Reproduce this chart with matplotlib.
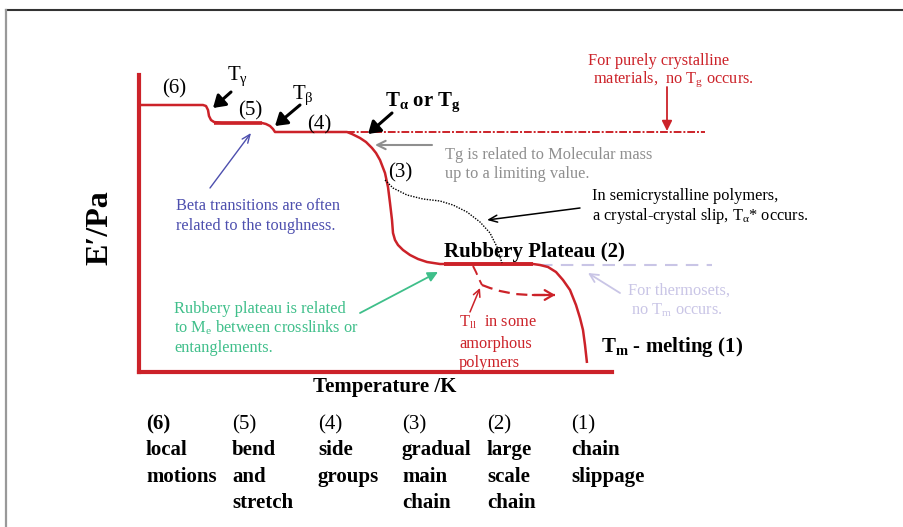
import matplotlib
matplotlib.use("Agg")
import matplotlib.pyplot as plt

plt.rcParams['font.family'] = ['Liberation Serif', 'DejaVu Serif']
plt.rcParams['mathtext.fontset'] = 'custom'
plt.rcParams['mathtext.rm'] = 'Liberation Serif'
plt.rcParams['mathtext.it'] = 'Liberation Serif:italic'
plt.rcParams['mathtext.bf'] = 'Liberation Serif:bold'
plt.rcParams['mathtext.default'] = 'regular'

# ---- storage modulus vs temperature (arbitrary units) ----
temp = [0, 64, 67, 69, 70, 72, 75, 83, 123, 127, 131, 134, 136, 141, 206, 208,
        213, 221, 227, 233, 237, 241, 246, 249, 251, 253, 254, 256, 259, 264,
        271, 279, 288, 301, 394, 401, 409, 417, 424, 431, 437, 441, 444, 446, 448]
modulus = [267, 267, 266, 262, 256, 252, 250, 249, 249, 248, 246, 243, 240, 240, 240, 240,
           238, 234, 230, 224, 219, 212, 199, 185, 169, 152, 139, 132, 127, 122,
           117, 113, 110, 108, 108, 107, 105, 100, 92, 82, 67, 54, 42, 27, 9]

# bend/stretch level and rubbery plateau (drawn heavier)
bend_temp, bend_mod = [75, 123], [249, 249]
plateau_temp, plateau_mod = [305, 394], [108, 108]

# purely crystalline: no glass transition
cryst_temp, cryst_mod = [208, 566], [240, 240]
# thermosets: no melting
thermo_temp, thermo_mod = [401, 573], [107, 107]
# crystal-crystal slip in semicrystalline polymers
slip_temp = [246, 254, 268, 284, 301, 314, 328, 341, 351, 358, 361, 363]
slip_mod = [192, 184, 177, 173, 171, 167, 160, 150, 139, 125, 115, 109]
# liquid-liquid transition in amorphous polymers
tll_temp = [334, 337, 340, 343, 351, 361, 376, 391, 416]
tll_mod = [106, 100, 93, 87, 84, 81, 78, 77, 77]

# molecular-motion regions below the chart
regions = ["(6)", "(5)", "(4)", "(3)", "(2)", "(1)"]
motions = [["local", "motions"], ["bend", "and", "stretch"], ["side", "groups"],
           ["gradual", "main", "chain"], ["large", "scale", "chain"], ["chain", "slippage"]]

RED = '#cc2229'
W, H = 904, 527
fig = plt.figure(figsize=(W / 100, H / 100), dpi=100)
fig.patch.set_facecolor('white')

# chart axes: data units map onto the plotting area
ax = fig.add_axes([139 / W, (H - 372) / H, 581 / W, 312 / H])
ax.set_xlim(0, 581)
ax.set_ylim(0, 312)
ax.patch.set_alpha(0)
for s in ['top', 'right']:
    ax.spines[s].set_visible(False)
ax.spines['left'].set_color(RED)
ax.spines['left'].set_linewidth(3)
ax.spines['left'].set_bounds(0, 297)
ax.spines['bottom'].set_color(RED)
ax.spines['bottom'].set_linewidth(3)
ax.spines['bottom'].set_bounds(0, 473)
ax.set_xticks([])
ax.set_yticks([])

ax.plot(cryst_temp, cryst_mod, color=RED, lw=1.4, ls=(0, (4, 1, 1, 1)), zorder=2)
ax.plot(thermo_temp, thermo_mod, color='#c9c5e6', lw=1.5, ls=(0, (6, 4)), zorder=2)
ax.plot(temp, modulus, color=RED, lw=1.8, solid_capstyle='butt', zorder=3)
ax.plot(bend_temp, bend_mod, color=RED, lw=2.6, solid_capstyle='butt', zorder=3)
ax.plot(plateau_temp, plateau_mod, color=RED, lw=2.8, solid_capstyle='butt', zorder=3)
ax.plot(slip_temp, slip_mod, color='black', lw=1.0, ls=(0, (1, 1)), zorder=3)
ax.plot(tll_temp[:4], tll_mod[:4], color=RED, lw=1.4, ls=(0, (5, 3)), zorder=3)
ax.plot(tll_temp[3:], tll_mod[3:], color=RED, lw=1.6, ls=(0, (5, 3)), zorder=3)
ax.annotate('', xy=(tll_temp[-1] + 3, tll_mod[-1]), xytext=(tll_temp[-2], tll_mod[-2]),
            arrowprops=dict(arrowstyle='->,head_length=0.6,head_width=0.35', color=RED, lw=1.6))

# overlay in pixel coordinates for labels, call-outs and frame
ov = fig.add_axes([0, 0, 1, 1])
ov.set_xlim(0, W)
ov.set_ylim(H, 0)
ov.axis('off')
ov.patch.set_alpha(0)

ov.plot([6, W], [10, 10], color='#333333', lw=1.5)
ov.plot([6, 6], [10, H], color='#999999', lw=1.6)


def txt(x, y, s, size=15, color='black', weight='normal', ha='left', **kw):
    ov.text(x, y, s, fontsize=size, color=color, fontweight=weight, ha=ha, va='baseline', **kw)


def arrow(x0, y0, x1, y1, color='black', lw=1.0, style='-|>', hl=0.5, hw=0.25):
    ov.annotate('', xy=(x1, y1), xytext=(x0, y0),
                arrowprops=dict(arrowstyle=f'{style},head_length={hl},head_width={hw}',
                                color=color, lw=lw, shrinkA=0, shrinkB=0))


# transition labels
txt(162, 93, '(6)')
txt(227, 80, r'T$_{γ}$')
txt(238, 115, '(5)')
txt(292, 99, r'T$_{β}$')
txt(307, 129, '(4)')
txt(385, 106, r'T$_{α}$ or T$_{\mathbf{g}}$', weight='bold')
txt(388, 177, '(3)')
txt(444, 257, 'Rubbery Plateau (2)', weight='bold')
txt(601, 352, r'T$_{\mathbf{m}}$ - melting (1)', weight='bold')

arrow(231, 92, 213, 108, lw=2.2, hl=0.7, hw=0.45)
arrow(300, 105, 275, 126, lw=2.2, hl=0.7, hw=0.45)
arrow(392, 113, 368, 134, lw=2.2, hl=0.7, hw=0.45)

# notes
SMALL = 11.8
txt(445, 159, 'Tg is related to Molecular mass', size=SMALL, color='#8f8f8f')
txt(445, 178, 'up to a limiting value.', size=SMALL, color='#8f8f8f')
arrow(432, 145, 375, 145, color='#8f8f8f', lw=1.5, hl=0.6, hw=0.3, style='->')

txt(592, 200, 'In semicrystalline polymers,', size=SMALL)
txt(592, 220, r'a crystal-crystal slip, T$_{α}$* occurs.', size=SMALL)
arrow(580, 208, 487, 220, lw=1.1, hl=0.6, hw=0.25, style='->')

BLUE = '#4d4fae'
txt(176, 210, 'Beta transitions are often', size=SMALL, color=BLUE)
txt(176, 230, 'related to the toughness.', size=SMALL, color=BLUE)
arrow(210, 188, 251, 133, color=BLUE, lw=1.0, hl=0.6, hw=0.25, style='->')

GREEN = '#3fbf8a'
txt(174, 313, 'Rubbery plateau is related', size=SMALL, color=GREEN)
txt(174, 333, r'to M$_{\mathrm{e}}$ between crosslinks or', size=SMALL, color=GREEN)
txt(174, 352, 'entanglements.', size=SMALL, color=GREEN)
arrow(360, 313, 438, 272, color=GREEN, lw=1.3, hl=0.6, hw=0.3)

txt(659, 65, 'For purely crystalline', size=SMALL, color=RED, ha='center')
txt(673, 83, r'materials,  no T$_{\mathrm{g}}$ occurs.', size=SMALL, color=RED, ha='center')
arrow(667, 87, 667, 131, color=RED, lw=1.3, hl=0.6, hw=0.3)

LAV = '#c9c5e6'
txt(679, 295, 'For thermosets,', size=SMALL, color=LAV, ha='center')
txt(677, 315, r'no T$_{\mathrm{m}}$ occurs.', size=SMALL, color=LAV, ha='center')
arrow(620, 293, 588, 273, color=LAV, lw=1.3, hl=0.6, hw=0.3, style='->')

txt(459, 327, r'T$_{\mathrm{ll}}$  in some', size=SMALL, color=RED)
txt(459, 348, 'amorphous', size=SMALL, color=RED)
txt(459, 367, 'polymers', size=SMALL, color=RED)
arrow(470, 312, 480, 288, color=RED, lw=1.1, hl=0.5, hw=0.25, style='->')

# axis titles
txt(385, 392, 'Temperature /K', weight='bold', ha='center')
ov.text(100, 228, 'E′/Pa', fontsize=23, fontweight='bold', rotation=90,
        ha='center', va='center')

# region descriptions
col_x = [146, 232, 318, 402, 487, 571]
row_y = [429, 455, 482, 508]
for i, (head, words) in enumerate(zip(regions, motions)):
    txt(col_x[i], row_y[0], head, weight='bold' if i == 0 else 'normal')
    for j, w in enumerate(words):
        txt(col_x[i], row_y[j + 1], w, weight='bold')

fig.savefig('out.png', dpi=100)
